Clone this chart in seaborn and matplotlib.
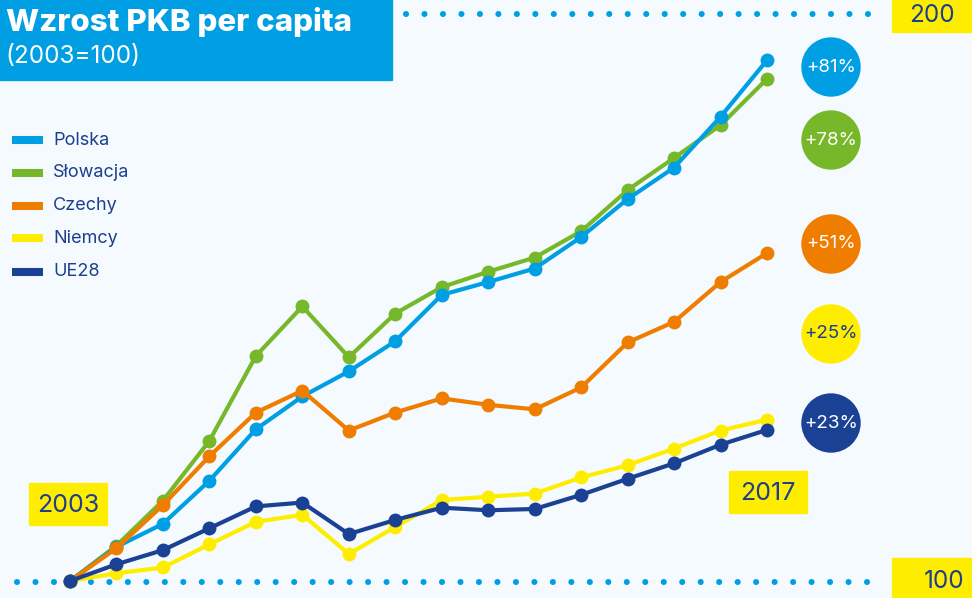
import numpy as np
import pandas as pd
import matplotlib
matplotlib.use("Agg")
import matplotlib.pyplot as plt
import seaborn as sns
from matplotlib.patches import Rectangle, Ellipse

# ---------------- data ----------------
periods = list(range(16))
polska = [100, 105.3, 108.9, 115.6, 123.6, 128.7, 132.6, 137.3, 144.5, 146.5,
          148.6, 153.5, 159.4, 164.3, 172.2, 181.0]
slowacja = [100, 105.5, 112.5, 121.8, 135.0, 142.7, 134.8, 141.6, 145.7, 148.1,
            150.3, 154.4, 160.8, 165.8, 170.9, 178.1]
czechy = [100, 105.1, 111.8, 119.4, 126.2, 129.6, 123.4, 126.2, 128.4, 127.4,
          126.7, 130.1, 137.1, 140.3, 146.5, 151.0]
niemcy = [100, 101.2, 102.1, 105.7, 109.2, 110.3, 104.2, 108.4, 112.6, 113.1,
          113.6, 116.1, 118.0, 120.6, 123.4, 125.1]
ue28 = [100, 102.6, 104.8, 108.2, 111.6, 112.2, 107.3, 109.5, 111.4, 111.0,
        111.2, 113.4, 115.9, 118.3, 121.2, 123.5]
series_names = ["Polska", "Słowacja", "Czechy", "Niemcy", "UE28"]
growth_labels = ["+81%", "+78%", "+51%", "+25%", "+23%"]
year_labels = ["2003", "2017"]
scale_labels = ["200", "100"]
title = "Wzrost PKB per capita"
subtitle = "(2003=100)"

# ---------------- style ----------------
BG = "#F5FAFE"
DARK = "#1D3F8E"
colors = {"Polska": "#009FE3", "Słowacja": "#76B82A", "Czechy": "#EF7D00",
          "Niemcy": "#FFED00", "UE28": "#1B4194"}
YELLOW = "#FFED00"

sns.set_theme(style="white")
plt.rcParams["font.family"] = ["Inter", "DejaVu Sans"]

W, H = 972, 598
fig = plt.figure(figsize=(W / 100, H / 100), dpi=100, facecolor=BG)
ax = fig.add_axes([0, 0, 1, 1])
ax.set_facecolor(BG)

def fx(px):
    return px / W

def fy(py):
    return 1 - py / H

# data -> pixel mapping: x0 at 70px, step 46.47px ; 100 at 581px, 6.43 px/unit
x0, dx = 70.0, 46.47
y0, dy = 581.0, 6.43
ax.set_xlim(-x0 / dx, (W - x0) / dx)
ax.set_ylim(100 - (H - y0) / dy, 100 + y0 / dy)
ax.set_axis_off()

values = {"Polska": polska, "Słowacja": slowacja, "Czechy": czechy,
          "Niemcy": niemcy, "UE28": ue28}
df = pd.DataFrame([
    {"okres": p, "wartosc": v, "kraj": name}
    for name in series_names for p, v in zip(periods, values[name])
])
draw_order = ["Niemcy", "Słowacja", "Polska", "Czechy", "UE28"]
sns.lineplot(data=df, x="okres", y="wartosc", hue="kraj", hue_order=draw_order,
             palette=colors, marker="o", markersize=10, markeredgewidth=0,
             linewidth=3.0, legend=False, ax=ax, zorder=3)

# dotted reference lines (dot ~6px, spacing ~18.5px)
dot_lw = 4.4
dot_gap = 13.3 / dot_lw
ax.plot([fx(406), fx(880)], [fy(14), fy(14)], transform=ax.transAxes,
        color="#009FE3", lw=dot_lw, linestyle=(0, (0.001, dot_gap)),
        dash_capstyle="round", zorder=1, clip_on=False)
ax.plot([fx(17), fx(878)], [fy(582), fy(582)], transform=ax.transAxes,
        color="#009FE3", lw=dot_lw, linestyle=(0, (0.001, dot_gap)),
        dash_capstyle="round", zorder=1, clip_on=False)

# title box
ax.add_patch(Rectangle((0, fy(80)), fx(392), 80 / H, transform=ax.transAxes,
                       color="#009FE3", zorder=5, clip_on=False))
ax.text(fx(6), fy(22), title, transform=ax.transAxes, color="white",
        fontsize=22.5, fontweight=800, va="center", ha="left", zorder=6)
ax.text(fx(5), fy(56), subtitle, transform=ax.transAxes, color="white",
        fontsize=17.5, va="center", ha="left", zorder=6)

# legend
leg_y = [140, 172.7, 205.7, 238.3, 271.5]
for name, yy in zip(series_names, leg_y):
    ax.plot([fx(12), fx(43)], [fy(yy), fy(yy)], transform=ax.transAxes,
            color=colors[name], lw=5.8, solid_capstyle="butt", zorder=5)
    ax.text(fx(53), fy(yy), name, transform=ax.transAxes, color=DARK,
            fontsize=13, va="center", ha="left", zorder=5)

# year / scale boxes
def label_box(x1, x2, y1, y2, text, tx, ty, size):
    ax.add_patch(Rectangle((fx(x1), fy(y2)), (x2 - x1) / W, (y2 - y1) / H,
                           transform=ax.transAxes, color=YELLOW, zorder=5,
                           clip_on=False))
    ax.text(fx(tx), fy(ty), text, transform=ax.transAxes, color=DARK,
            fontsize=size, va="center", ha="center", zorder=6)

label_box(29, 107, 483, 525, year_labels[0], 68, 505, 18)
label_box(729, 807, 471, 513, year_labels[1], 768, 493, 18)
label_box(892, 972, 0, 32, scale_labels[0], 932, 16, 17.5)
label_box(892, 972, 558, 598, scale_labels[1], 944, 582, 17.5)

# growth circles
circ_y = [67, 140, 244, 334, 423]
for name, lab, cy in zip(series_names, growth_labels, circ_y):
    ax.add_patch(Ellipse((fx(831), fy(cy)), 58 / W, 58 / H,
                         transform=ax.transAxes, color=colors[name], zorder=5))
    tc = DARK if name == "Niemcy" else "white"
    ax.text(fx(831), fy(cy), lab, transform=ax.transAxes, color=tc,
            fontsize=13.5, va="center", ha="center", zorder=6)

fig.savefig("out.png", dpi=100, facecolor=BG)
